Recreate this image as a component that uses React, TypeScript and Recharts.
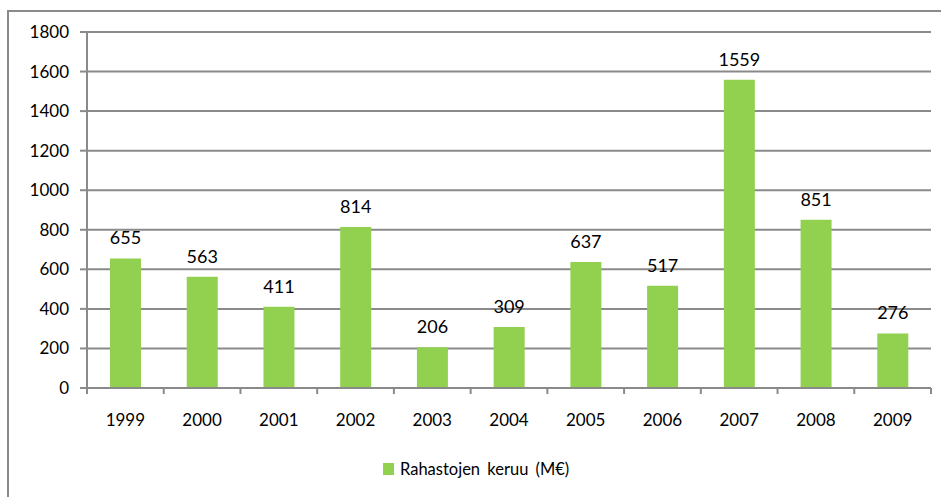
import { Bar, BarChart, CartesianGrid, LabelList, XAxis, YAxis } from "recharts";

const years = ["1999", "2000", "2001", "2002", "2003", "2004", "2005", "2006", "2007", "2008", "2009"];
const keruu = [655, 563, 411, 814, 206, 309, 637, 517, 1559, 851, 276];
const yTicks = [0, 200, 400, 600, 800, 1000, 1200, 1400, 1600, 1800];
const seriesName = "Rahastojen keruu (M€)";

const data = years.map((year, i) => ({ year, value: keruu[i] }));

const GREEN = "#92d050";
const GRID = "#8a8a8a";
const FONT = "Lato, 'Open Sans', sans-serif";

// Excel style: category tick marks sit on band boundaries, labels in the middle
function YearTick(props: any) {
  const { x, y, payload, index, visibleTicksCount, width } = props;
  const half = payload?.offset || width / (visibleTicksCount || 1) / 2;
  const axisY = y - 26;
  return (
    <g>
      <line x1={x - half} x2={x - half} y1={axisY} y2={axisY + 6} stroke={GRID} strokeWidth={2} />
      {index === visibleTicksCount - 1 && (
        <line x1={x + half} x2={x + half} y1={axisY} y2={axisY + 6} stroke={GRID} strokeWidth={2} />
      )}
      <text x={x} y={y} dy="0.71em" textAnchor="middle" fill="#000" fontSize={17} fontFamily={FONT}>
        {payload.value}
      </text>
    </g>
  );
}

export default function App() {
  return (
    <div style={{ position: "fixed", left: 0, top: 0, width: 941, height: 497, overflow: "hidden", background: "#fff" }}>
      <div
        style={{
          position: "absolute",
          left: 7,
          top: 10,
          width: 1000,
          height: 600,
          border: `2px solid ${GRID}`,
        }}
      />
      <div style={{ position: "absolute", left: 0, top: 0 }}>
        <BarChart
          width={941}
          height={497}
          data={data}
          margin={{ top: 32, right: 10, bottom: 0, left: 0 }}
          barCategoryGap="30%"
        >
          <CartesianGrid vertical={false} stroke={GRID} strokeWidth={2} />
          <XAxis
            dataKey="year"
            height={109}
            axisLine={{ stroke: GRID, strokeWidth: 2 }}
            tickLine={false}
            tickSize={6}
            tickMargin={20}
            interval={0}
            tick={<YearTick />}
          />
          <YAxis
            width={87}
            domain={[0, 1800]}
            ticks={yTicks}
            interval={0}
            axisLine={{ stroke: GRID, strokeWidth: 2 }}
            tickLine={{ stroke: GRID, strokeWidth: 2 }}
            tickSize={7}
            tickMargin={11}
            tick={{ fill: "#000", fontSize: 17, fontFamily: FONT }}
          />
          <Bar dataKey="value" name={seriesName} fill={GREEN} isAnimationActive={false}>
            <LabelList
              dataKey="value"
              position="top"
              offset={14}
              fill="#000"
              fontSize={18}
              fontFamily={FONT}
            />
          </Bar>
        </BarChart>
      </div>
      <div
        style={{
          position: "absolute",
          left: 383,
          top: 459,
          display: "flex",
          alignItems: "center",
          fontFamily: FONT,
          fontSize: 16.5,
          color: "#000",
          whiteSpace: "nowrap",
        }}
      >
        <span style={{ width: 11, height: 12, background: GREEN, marginRight: 6, display: "inline-block" }} />
        <span style={{ wordSpacing: 3 }}>{seriesName}</span>
      </div>
    </div>
  );
}
